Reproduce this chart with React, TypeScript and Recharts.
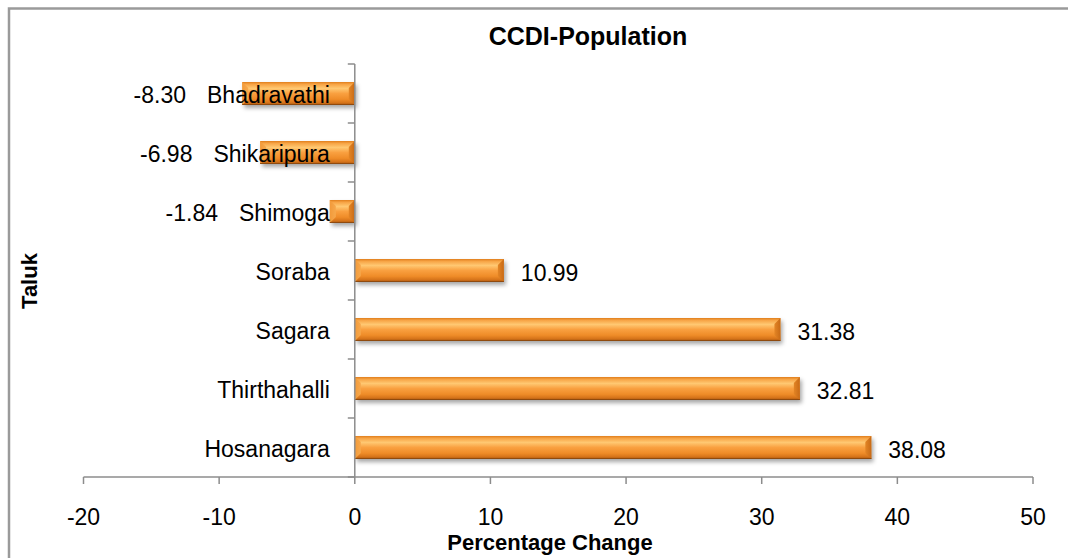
import React from 'react';
import { BarChart, Bar, XAxis, YAxis, LabelList, ReferenceLine } from 'recharts';

const categories = ['Bhadravathi', 'Shikaripura', 'Shimoga', 'Soraba', 'Sagara', 'Thirthahalli', 'Hosanagara'];
const values = [-8.3, -6.98, -1.84, 10.99, 31.38, 32.81, 38.08];
const xTicks = [-20, -10, 0, 10, 20, 30, 40, 50];
const chartTitle = 'CCDI-Population';
const xTitle = 'Percentage Change';
const yTitle = 'Taluk';

const data = categories.map((name, i) => ({ name, value: values[i] }));

const FONT = "'Liberation Sans', Arial, sans-serif";
const AXIS = '#8c8c8c';

const BarShape = (props: any) => {
  const { x, y, width, height } = props;
  const left = Math.min(x, x + width);
  const w = Math.abs(width);
  const right = left + w;
  const h = height;
  const b = Math.min(6, w / 2, h / 3);
  return (
    <g>
      <rect x={left + 2} y={y + 3} width={w} height={h} fill="rgba(0,0,0,0.35)" filter="url(#barShadow)" />
      <rect x={left} y={y} width={w} height={h} fill="url(#barGrad)" />
      <polygon
        points={`${left},${y} ${left + b},${y + b} ${left + b},${y + h - b} ${left},${y + h}`}
        fill="url(#leftBevel)"
      />
      <polygon
        points={`${right},${y} ${right - b},${y + b} ${right - b},${y + h - b} ${right},${y + h}`}
        fill="url(#rightBevel)"
      />
      <line x1={left} x2={right} y1={y + h - 0.5} y2={y + h - 0.5} stroke="#8f4a0e" strokeWidth={1} />
    </g>
  );
};

const AxisShape = (props: any) => {
  const { x1, y1, y2 } = props;
  const top = Math.min(y1, y2);
  const bottom = Math.max(y1, y2);
  const n = categories.length;
  const band = (bottom - top) / n;
  const ticks = [];
  for (let i = 0; i <= n; i++) {
    const ty = top + i * band;
    ticks.push(<line key={i} x1={x1 - 7} x2={x1} y1={ty} y2={ty} stroke={AXIS} strokeWidth={1.5} />);
  }
  return (
    <g>
      <line x1={x1} x2={x1} y1={top} y2={bottom} stroke={AXIS} strokeWidth={1.5} />
      {ticks}
    </g>
  );
};

const BarLabel = (props: any) => {
  const vb = props.viewBox && props.viewBox.width !== undefined ? props.viewBox : props;
  const { x, y, width, height } = vb;
  const idx = props.index;
  const val = values[idx];
  const name = categories[idx];
  const lo = Math.min(x, x + width);
  const hi = Math.max(x, x + width);
  const zeroX = val >= 0 ? lo : hi;
  const yc = y + height / 2;
  const labelX = zeroX - 25;
  if (val >= 0) {
    return (
      <g>
        <text x={labelX} y={yc + 9} textAnchor="end" fontFamily={FONT} fontSize={23} fill="#000">
          {name}
        </text>
        <text x={hi + 17} y={yc + 10} textAnchor="start" fontFamily={FONT} fontSize={23} fill="#000">
          {val.toFixed(2)}
        </text>
      </g>
    );
  }
  return (
    <text x={labelX} y={yc + 9} textAnchor="end" fontFamily={FONT} fontSize={23} fill="#000">
      <tspan>{val.toFixed(2)}</tspan>
      <tspan dx={21}>{name}</tspan>
    </text>
  );
};

export default function App() {
  return (
    <div style={{ position: 'relative', width: 1068, height: 558, background: '#fff', overflow: 'hidden' }}>
      <style>{'html,body{margin:0;padding:0;overflow:hidden}'}</style>
      <svg width={1068} height={558} style={{ position: 'absolute', left: 0, top: 0 }}>
        <path d="M9,800 V8.5 H1300" fill="none" stroke="#9a9a9a" strokeWidth={2.5} />
        <text x={588} y={45} textAnchor="middle" fontFamily={FONT} fontWeight="bold" fontSize={25} fill="#000">
          {chartTitle}
        </text>
        <text
          x={37}
          y={281}
          transform="rotate(-90, 37, 281)"
          textAnchor="middle"
          fontFamily={FONT}
          fontWeight="bold"
          fontSize={22}
          fill="#000"
        >
          {yTitle}
        </text>
        <text x={550} y={550} textAnchor="middle" fontFamily={FONT} fontWeight="bold" fontSize={22} fill="#000">
          {xTitle}
        </text>
      </svg>
      <div style={{ position: 'absolute', left: 0, top: 0 }}>
        <BarChart
          width={1068}
          height={558}
          data={data}
          layout="vertical"
          margin={{ top: 64, right: 35, bottom: 51, left: 83.5 }}
          barCategoryGap={0}
        >
          <defs>
            <linearGradient id="barGrad" x1="0" y1="0" x2="0" y2="1">
              <stop offset="0" stopColor="#e07e1c" />
              <stop offset="0.1" stopColor="#f7a445" />
              <stop offset="0.28" stopColor="#ffc872" />
              <stop offset="0.5" stopColor="#f9a040" />
              <stop offset="0.75" stopColor="#ef8c28" />
              <stop offset="0.9" stopColor="#d6741a" />
              <stop offset="1" stopColor="#a9560f" />
            </linearGradient>
            <linearGradient id="leftBevel" x1="0" y1="0" x2="1" y2="0">
              <stop offset="0" stopColor="#f29a3a" />
              <stop offset="1" stopColor="#f6a84c" />
            </linearGradient>
            <linearGradient id="rightBevel" x1="0" y1="0" x2="1" y2="0">
              <stop offset="0" stopColor="#e38525" />
              <stop offset="1" stopColor="#c86a16" />
            </linearGradient>
            <filter id="barShadow" x="-10%" y="-50%" width="120%" height="200%">
              <feGaussianBlur stdDeviation="2" />
            </filter>
          </defs>
          <XAxis
            type="number"
            domain={[-20, 50]}
            ticks={xTicks}
            interval={0}
            height={30}
            axisLine={{ stroke: AXIS, strokeWidth: 1.5 }}
            tickLine={{ stroke: AXIS, strokeWidth: 1.5 }}
            tickSize={7}
            tickMargin={25}
            tick={{ fill: '#000', fontSize: 23, fontFamily: FONT }}
          />
          <YAxis type="category" dataKey="name" hide />
          <Bar dataKey="value" barSize={23} isAnimationActive={false} shape={BarShape}>
            <LabelList dataKey="value" content={BarLabel} />
          </Bar>
          <ReferenceLine x={0} shape={AxisShape} />
        </BarChart>
      </div>
    </div>
  );
}
